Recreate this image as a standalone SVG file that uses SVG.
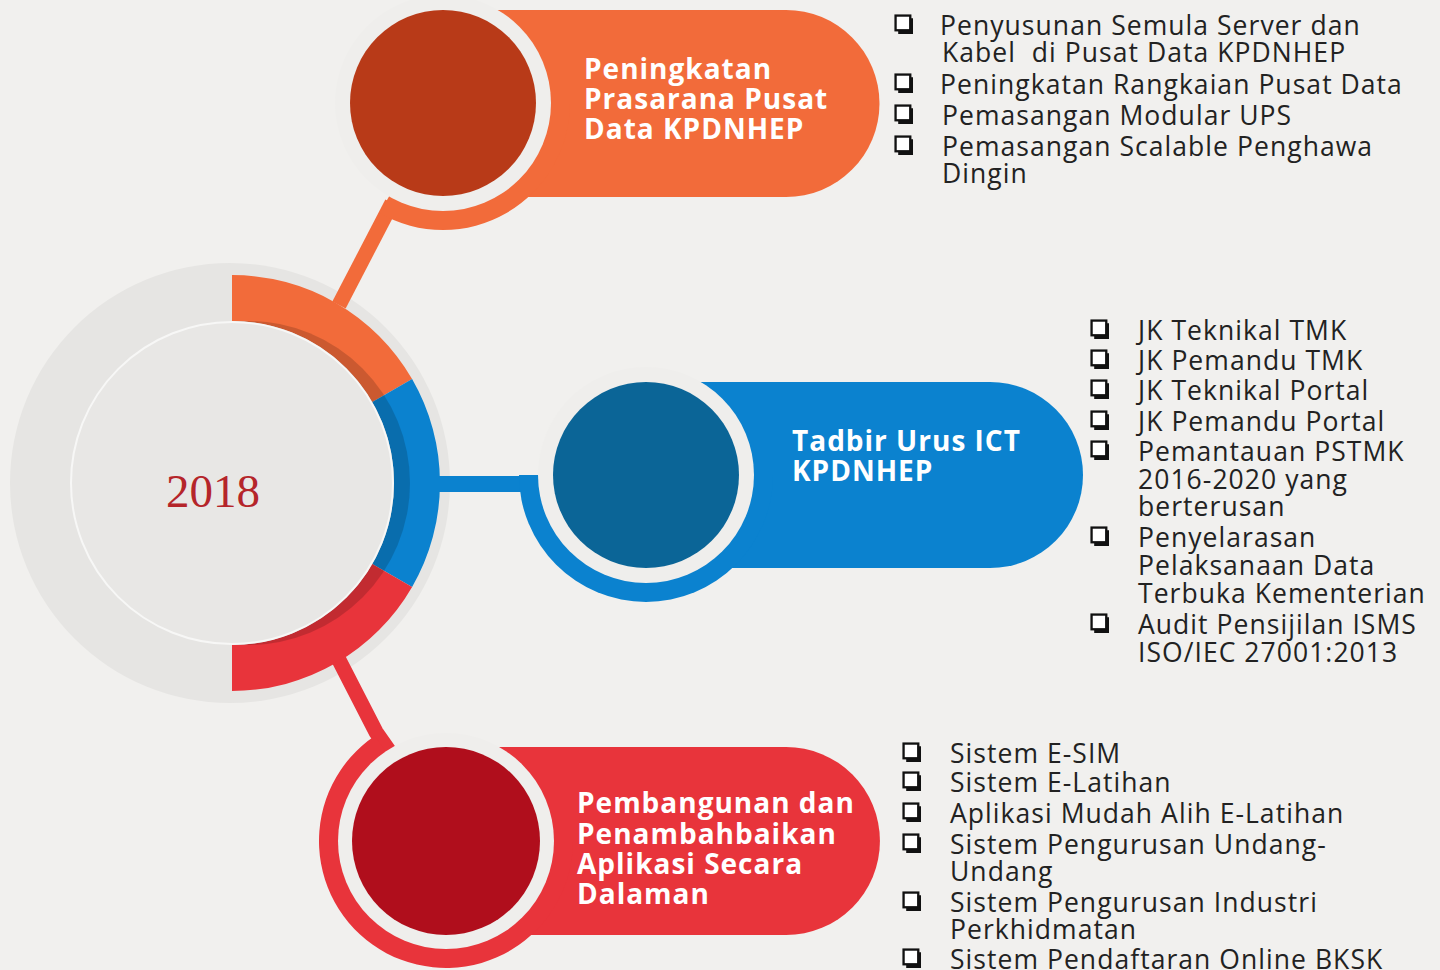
<svg xmlns="http://www.w3.org/2000/svg" width="1440" height="970" viewBox="0 0 1440 970">
<defs>
<style>
.pill{font-family:"Open Sans","Noto Sans",sans-serif;font-weight:700;font-size:28px;letter-spacing:1px;fill:#ffffff}
.li{font-family:"Open Sans","Noto Sans",sans-serif;font-size:26.5px;letter-spacing:1.05px;fill:#222222}
.gap{fill:#efeeec}
</style>
<symbol id="cb" viewBox="0 0 20 20">
<rect x="1.5" y="1.5" width="14" height="14" fill="#ffffff" stroke="#111111" stroke-width="2.2"/>
<path d="M16.5 4 V17.5 H4" fill="none" stroke="#111111" stroke-width="3.2"/>
</symbol>
</defs>
<rect width="1440" height="970" fill="#f1f0ee"/>

<g id="hub">
<circle cx="230" cy="483" r="220" fill="#e6e5e3"/>
<path d="M232,275 A208,208 0 0 1 412.1,379 L372.3,402 A162,162 0 0 0 232,321 Z" fill="#f26b3a"/>
<path d="M412.1,379 A208,208 0 0 1 412.1,587 L372.3,564 A162,162 0 0 0 372.3,402 Z" fill="#0b82cf"/>
<path d="M412.1,587 A208,208 0 0 1 232,691 L232,645 A162,162 0 0 0 372.3,564 Z" fill="#e8343b"/>
<circle cx="248" cy="483" r="162" fill="#000000" opacity="0.16"/>
<circle cx="232" cy="483" r="161" fill="#e8e7e5" stroke="#f7f7f6" stroke-width="2"/>
<text x="213" y="507" text-anchor="middle" font-family="Liberation Serif, serif" font-size="47" fill="#b5252a">2018</text>
</g>

<g id="connectors">
<line x1="339" y1="305" x2="392" y2="203" stroke="#f26b3a" stroke-width="15"/>
<rect x="436" y="476" width="96" height="16" fill="#0b82cf"/>
<polyline points="339,660 376,732 390,752" fill="none" stroke="#e8343b" stroke-width="15"/>
</g>

<g id="node-prasarana">
<path d="M443,10 H786 A93.5,93.5 0 0 1 786,197 H443 Z" fill="#f26b3a"/>
<path d="M443,103 L570,103 A127,127 0 0 1 379.5,213 Z" fill="#f26b3a"/>
<circle class="gap" cx="443" cy="103" r="108"/>
<circle cx="443" cy="103" r="93" fill="#b83a18"/>
<text class="pill" x="584" y="79">Peningkatan</text>
<text class="pill" x="584" y="109">Prasarana Pusat</text>
<text class="pill" x="584" y="139">Data KPDNHEP</text>
</g>

<g id="node-tadbir">
<path d="M646,382 H990 A93,93 0 0 1 990,568 H646 Z" fill="#0b82cf"/>
<path d="M646,475 L773,475 A127,127 0 0 1 519,475 Z" fill="#0b82cf"/>
<circle class="gap" cx="646" cy="475" r="108"/>
<circle cx="646" cy="475" r="93" fill="#0b6597"/>
<text class="pill" x="792" y="451">Tadbir Urus ICT</text>
<text class="pill" x="792" y="481">KPDNHEP</text>
</g>

<g id="node-aplikasi">
<path d="M446,747 H786 A94,94 0 0 1 786,935 H446 Z" fill="#e8343b"/>
<path d="M446,841 L573,841 A127,127 0 1 1 375,735.7 Z" fill="#e8343b"/>
<circle class="gap" cx="446" cy="841" r="108"/>
<circle cx="446" cy="841" r="94" fill="#b00e1c"/>
<text class="pill" x="577" y="813">Pembangunan dan</text>
<text class="pill" x="577" y="844">Penambahbaikan</text>
<text class="pill" x="577" y="874">Aplikasi Secara</text>
<text class="pill" x="577" y="904">Dalaman</text>
</g>

<g id="list-prasarana">
<use href="#cb" x="894" y="14" width="21" height="21"/>
<use href="#cb" x="894" y="73" width="21" height="21"/>
<use href="#cb" x="894" y="104" width="21" height="21"/>
<use href="#cb" x="894" y="135" width="21" height="21"/>
<text class="li" x="940" y="35">Penyusunan Semula Server dan</text>
<text class="li" x="942" y="62">Kabel&#160; di Pusat Data KPDNHEP</text>
<text class="li" x="940" y="94">Peningkatan Rangkaian Pusat Data</text>
<text class="li" x="942" y="125">Pemasangan Modular UPS</text>
<text class="li" x="942" y="156">Pemasangan Scalable Penghawa</text>
<text class="li" x="942" y="183">Dingin</text>
</g>

<g id="list-tadbir">
<use href="#cb" x="1090" y="319" width="21" height="21"/>
<use href="#cb" x="1090" y="349" width="21" height="21"/>
<use href="#cb" x="1090" y="379" width="21" height="21"/>
<use href="#cb" x="1090" y="410" width="21" height="21"/>
<use href="#cb" x="1090" y="440" width="21" height="21"/>
<use href="#cb" x="1090" y="526" width="21" height="21"/>
<use href="#cb" x="1090" y="613" width="21" height="21"/>
<text class="li" x="1138" y="340">JK Teknikal TMK</text>
<text class="li" x="1138" y="370">JK Pemandu TMK</text>
<text class="li" x="1138" y="400">JK Teknikal Portal</text>
<text class="li" x="1138" y="431">JK Pemandu Portal</text>
<text class="li" x="1138" y="461">Pemantauan PSTMK</text>
<text class="li" x="1138" y="489">2016-2020 yang</text>
<text class="li" x="1138" y="516">berterusan</text>
<text class="li" x="1138" y="547">Penyelarasan</text>
<text class="li" x="1138" y="575">Pelaksanaan Data</text>
<text class="li" x="1138" y="603">Terbuka Kementerian</text>
<text class="li" x="1138" y="634">Audit Pensijilan ISMS</text>
<text class="li" x="1138" y="662">ISO/IEC 27001:2013</text>
</g>

<g id="list-aplikasi">
<use href="#cb" x="902" y="742" width="21" height="21"/>
<use href="#cb" x="902" y="771" width="21" height="21"/>
<use href="#cb" x="902" y="802" width="21" height="21"/>
<use href="#cb" x="902" y="833" width="21" height="21"/>
<use href="#cb" x="902" y="891" width="21" height="21"/>
<use href="#cb" x="902" y="948" width="21" height="21"/>
<text class="li" x="950" y="763">Sistem E-SIM</text>
<text class="li" x="950" y="792">Sistem E-Latihan</text>
<text class="li" x="950" y="823">Aplikasi Mudah Alih E-Latihan</text>
<text class="li" x="950" y="854">Sistem Pengurusan Undang-</text>
<text class="li" x="950" y="881">Undang</text>
<text class="li" x="950" y="912">Sistem Pengurusan Industri</text>
<text class="li" x="950" y="939">Perkhidmatan</text>
<text class="li" x="950" y="969">Sistem Pendaftaran Online BKSK</text>
</g>
</svg>
